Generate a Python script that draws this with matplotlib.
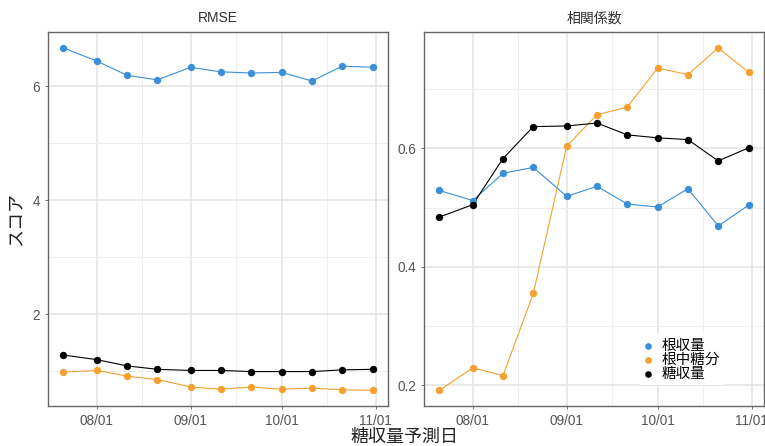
import numpy as np
import pandas as pd
import matplotlib
matplotlib.use("Agg")
import matplotlib.pyplot as plt
import matplotlib.dates as mdates

plt.rcParams['font.family'] = ['Liberation Sans', 'Noto Sans CJK JP', 'DejaVu Sans']

dates = pd.to_datetime(["2020-07-21", "2020-08-01", "2020-08-11", "2020-08-21",
                        "2020-09-01", "2020-09-11", "2020-09-21", "2020-10-01",
                        "2020-10-11", "2020-10-21", "2020-10-31"])

series = ["根収量", "根中糖分", "糖収量"]
colors = ["#3a8fd8", "#f5a030", "#000000"]

rmse_root = [6.67, 6.44, 6.19, 6.11, 6.33, 6.25, 6.23, 6.24, 6.09, 6.35, 6.33]
rmse_sugar = [0.98, 1.01, 0.91, 0.85, 0.72, 0.68, 0.72, 0.68, 0.70, 0.67, 0.66]
rmse_yield = [1.28, 1.20, 1.09, 1.03, 1.01, 1.01, 0.99, 0.99, 0.99, 1.02, 1.03]

cor_root = [0.529, 0.512, 0.558, 0.568, 0.519, 0.536, 0.506, 0.501, 0.532, 0.469, 0.504]
cor_sugar = [0.191, 0.229, 0.216, 0.355, 0.604, 0.657, 0.670, 0.736, 0.725, 0.770, 0.729]
cor_yield = [0.484, 0.505, 0.583, 0.637, 0.638, 0.643, 0.623, 0.618, 0.615, 0.579, 0.601]

fig = plt.figure(figsize=(7.65, 4.46), dpi=100)
ax1 = fig.add_axes([0.0627, 0.0897, 0.4444, 0.8386])
ax2 = fig.add_axes([0.5542, 0.0897, 0.4444, 0.8386])

panels = [
    (ax1, "RMSE", [rmse_root, rmse_sugar, rmse_yield], [2, 4, 6], [1, 3, 5], (0.386, 6.95)),
    (ax2, "相関係数", [cor_root, cor_sugar, cor_yield], [0.2, 0.4, 0.6], [0.3, 0.5, 0.7], (0.1645, 0.797)),
]

xmin = pd.Timestamp("2020-07-15 22:00")
xmax = pd.Timestamp("2020-11-05 02:00")

for ax, title, vals, major, minor, ylim in panels:
    for name, v, c in zip(series, vals, colors):
        ax.plot(dates, v, color=c, lw=0.8, zorder=3)
        ax.scatter(dates, v, color=c, s=28, zorder=4, label=name, linewidths=0)
    ax.set_xlim(xmin, xmax)
    ax.set_ylim(*ylim)
    ax.set_yticks(major)
    ax.set_yticklabels([f"{m:g}" for m in major])
    ax.set_yticks(minor, minor=True)
    ax.xaxis.set_major_locator(mdates.MonthLocator(bymonth=[8, 9, 10, 11]))
    ax.xaxis.set_major_formatter(mdates.DateFormatter("%m/%d"))
    ax.set_xticks(pd.to_datetime(["2020-08-16", "2020-09-16", "2020-10-16"]), minor=True)
    ax.grid(which="major", color="#e3e3e3", lw=1.1, zorder=0)
    ax.grid(which="minor", color="#efefef", lw=0.7, zorder=0)
    ax.tick_params(which="major", length=2.5, width=0.6, color="#555555",
                   labelcolor="#555555", labelsize=9.8, pad=3)
    ax.tick_params(which="minor", length=0)
    for s in ax.spines.values():
        s.set_color("#666666")
        s.set_linewidth(1.0)
    ax.set_title(title, fontsize=10, color="#333333", pad=7)

ax1.set_ylabel("スコア", fontsize=13, color="#222222", labelpad=6)
fig.text(0.529, 0.02, "糖収量予測日", fontsize=13, color="#222222", ha="center", va="center")

leg = ax2.legend(loc="center left", bbox_to_anchor=(0.608, 0.124), frameon=True,
                 fontsize=10.5, handletextpad=0.55, labelspacing=0.0,
                 borderpad=0.3, handlelength=0.8, markerscale=0.9)
leg.get_frame().set_edgecolor("none")
leg.get_frame().set_facecolor("white")
leg.get_frame().set_alpha(1)

fig.savefig("out.png", dpi=100)
